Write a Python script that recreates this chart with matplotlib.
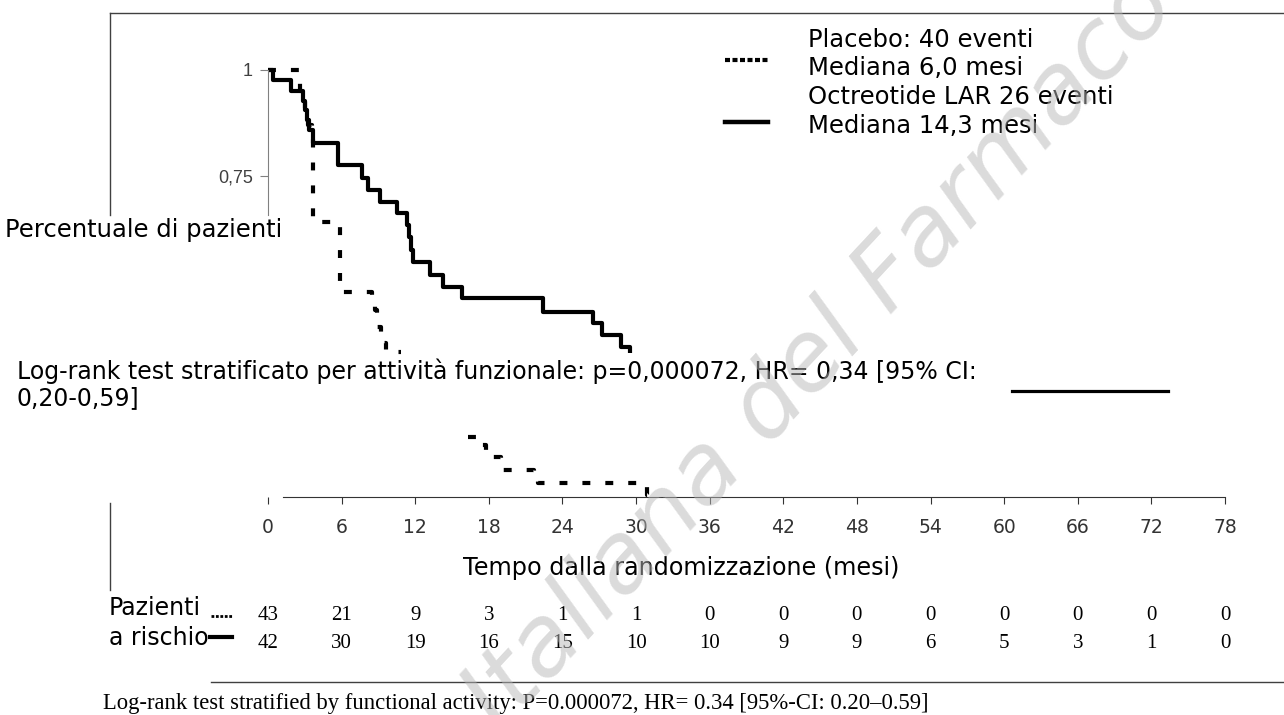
import matplotlib
matplotlib.use('Agg')
import matplotlib.pyplot as plt
import matplotlib.transforms as mtransforms
from matplotlib.lines import Line2D
import numpy as np

# Kaplan-Meier steps (months, fraction without progression)
octreotide_t = [0, 0.4, 1.85, 2.85, 3.0, 3.2, 3.35, 3.67, 5.73, 7.66, 8.15, 9.13, 10.49,
                11.3, 11.5, 11.65, 11.84, 13.2, 14.29, 15.79, 22.44, 26.5, 27.2, 28.8, 29.5]
octreotide_s = [1.0, 0.976, 0.951, 0.927, 0.906, 0.882, 0.859, 0.828, 0.776, 0.746, 0.718, 0.690, 0.663,
                0.635, 0.607, 0.576, 0.549, 0.518, 0.490, 0.463, 0.431, 0.404, 0.376, 0.349, 0.333]

# placebo curve is only visible in two pieces
placebo_t_top = [0, 2.6, 3.0, 3.3, 3.6, 3.7, 5.9, 8.5, 8.7, 8.9, 9.2, 9.6, 10.2, 10.8]
placebo_s_top = [1.0, 0.95, 0.91, 0.87, 0.842, 0.642, 0.478, 0.459, 0.435, 0.395, 0.358, 0.336, 0.336, 0.336]
placebo_t_low = [16.3, 17.1, 17.8, 19.0, 21.7, 22.0, 30.9, 31.2]
placebo_s_low = [0.137, 0.118, 0.088, 0.059, 0.047, 0.028, 0.0, 0.0]

months = [0, 6, 12, 18, 24, 30, 36, 42, 48, 54, 60, 66, 72, 78]
risk_placebo = [43, 21, 9, 3, 1, 1, 0, 0, 0, 0, 0, 0, 0, 0]
risk_octreotide = [42, 30, 19, 16, 15, 10, 10, 9, 9, 6, 5, 3, 1, 0]

W, H = 1284, 715
fig = plt.figure(figsize=(W / 100, H / 100), dpi=100)

def fx(px):
    return px / W

def fy(py):
    return 1 - py / H

ax = fig.add_axes([fx(268), fy(497), fx(1225) - fx(268), fy(70) - fy(497)])
ax.set_xlim(0, 78)
ax.set_ylim(-0.005, 1.0)

dots = (0, (1.9, 3.6))
ax.step(octreotide_t, octreotide_s, where='post', color='black', lw=3, clip_on=False,
        solid_capstyle='butt')
ax.step(placebo_t_top, placebo_s_top, where='post', color='black', lw=3, ls=dots, clip_on=False)
ax.step(placebo_t_low, placebo_s_low, where='post', color='black', lw=3, ls=dots, clip_on=False)

for side in ['top', 'right']:
    ax.spines[side].set_visible(False)
ax.spines['left'].set_bounds(0.659, 1.0)
ax.spines['left'].set_color('#808080')
ax.spines['bottom'].set_bounds(1.2, 78)
ax.spines['bottom'].set_color('#333333')

ax.set_xticks(months)
ax.set_xticklabels([str(m) for m in months], family=['Liberation Sans Narrow', 'DejaVu Sans'],
                   fontsize=13.5, color='#333333')
ax.tick_params(axis='x', length=5, color='#333333', pad=10)
ax.set_yticks([0.75, 1.0])
ax.set_yticklabels(['0,75', '1'], family='Liberation Sans', fontsize=13, color='#404040')
ax.tick_params(axis='y', length=6, color='#808080', pad=5)
ax.patch.set_visible(False)

# frame lines of the original page
for xs, ys in [([110, 1284], [13, 13]), ([110, 110], [13, 215]), ([110, 110], [503, 590]),
               ([211, 1284], [682, 682])]:
    fig.add_artist(Line2D([fx(x) for x in xs], [fy(y) for y in ys], color='#404040', lw=1))

# legend
fig.add_artist(Line2D([fx(725), fx(768)], [fy(60), fy(60)], color='black', lw=3, ls=(0, (1.2, 0.6))))
fig.add_artist(Line2D([fx(725), fx(768)], [fy(122), fy(122)], color='black', lw=3.2))
leg_lines = ['Placebo: 40 eventi', 'Mediana 6,0 mesi', 'Octreotide LAR 26 eventi', 'Mediana 14,3 mesi']
for i, s in enumerate(leg_lines):
    fig.text(fx(808), fy(40 + i * 28.5), s, fontsize=17.5, va='center', ha='left')

fig.text(fx(5), fy(230), 'Percentuale di pazienti', fontsize=17.5, va='center', ha='left')
fig.text(fx(17), fy(371),
         'Log-rank test stratificato per attività funzionale: p=0,000072, HR= 0,34 [95% CI:',
         fontsize=17, va='center', ha='left')
fig.text(fx(17), fy(398), '0,20-0,59]', fontsize=17, va='center', ha='left')
fig.add_artist(Line2D([fx(1012), fx(1168)], [fy(391), fy(391)], color='black', lw=2.3))

fig.text(fx(681), fy(568), 'Tempo dalla randomizzazione (mesi)', fontsize=17.2, va='center', ha='center')

# numbers at risk
fig.text(fx(109), fy(608), 'Pazienti', fontsize=17, va='center', ha='left')
fig.text(fx(109), fy(638), 'a rischio', fontsize=17, va='center', ha='left')
fig.add_artist(Line2D([fx(211), fx(232)], [fy(616), fy(616)], color='black', lw=2, ls=(0, (1, 0.6))))
fig.add_artist(Line2D([fx(210), fx(232)], [fy(637), fy(637)], color='black', lw=3))
trans = mtransforms.blended_transform_factory(ax.transData, fig.transFigure)
for m, a, b in zip(months, risk_placebo, risk_octreotide):
    fig.text(m, fy(616), str(a), transform=trans, family='Liberation Serif', fontsize=15,
             ha='center', va='center')
    fig.text(m, fy(644), str(b), transform=trans, family='Liberation Serif', fontsize=15,
             ha='center', va='center')

fig.text(fx(103), fy(704),
         'Log-rank test stratified by functional activity: P=0.000072, HR= 0.34 [95%-CI: 0.20\u20130.59]',
         family='Liberation Serif', fontsize=16.3, va='center', ha='left')

# watermark
fig.text(fx(820), fy(352), 'Italiana del Farmaco', fontsize=70, style='italic', rotation=47,
         color=(0.72, 0.72, 0.72), alpha=0.5, ha='center', va='center', rotation_mode='anchor',
         zorder=10)

fig.savefig('out.png', dpi=100)
plt.close(fig)
